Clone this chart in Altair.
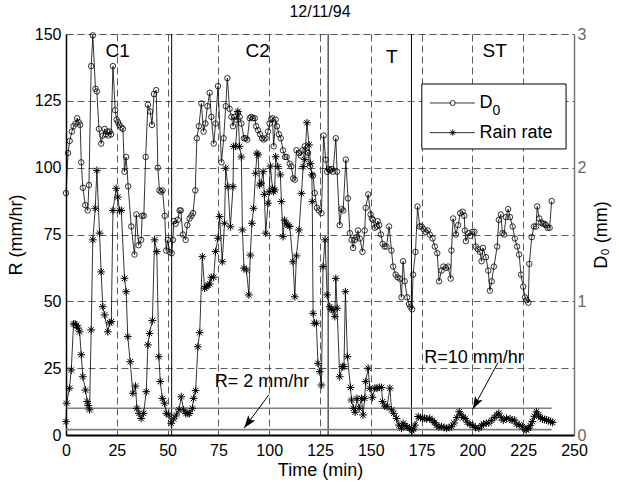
import altair as alt
import pandas as pd

FONT = "Liberation Sans"

# ---------------- data ----------------
# (time in min, D0 in mm)
d0_readings = [
    (0.0,1.81),(1.0,2.11),(1.8,2.20),(2.9,2.27),(3.7,2.31),(4.7,2.33),(5.5,2.37),(6.2,2.34),(7.0,2.32),(7.5,2.04),
    (8.3,1.85),(9.5,1.72),(10.7,1.68),(11.3,1.87),(12.4,2.76),(13.2,2.99),(14.5,2.59),(15.2,2.57),(16.2,2.29),(17.3,2.18),
    (18.1,2.24),(19.0,2.29),(19.6,2.25),(20.3,2.27),(20.9,2.24),(21.5,2.27),(22.2,2.25),(23.1,2.76),(24.2,2.43),(24.9,2.36),
    (25.6,2.34),(26.3,2.32),(27.2,2.30),(28.0,2.29),(28.8,1.97),(29.6,2.08),(30.6,1.86),(32.1,1.56),(33.7,1.35),(34.6,1.65),
    (35.7,1.42),(37.0,1.46),(37.5,1.64),(38.3,1.64),(39.2,2.08),(40.3,2.47),(41.5,2.42),(42.3,2.32),(43.3,2.55),(44.4,2.58),
    (45.2,2.00),(46.0,1.83),(46.8,1.82),(47.5,1.83),(48.6,1.64),(49.3,1.38),(50.1,1.46),(51.0,1.37),(52.0,1.36),(52.6,1.46),
    (53.1,1.60),(54.0,1.58),(55.0,1.61),(55.9,1.68),(56.5,1.68),(57.5,1.50),(58.9,1.46),(59.7,1.57),(60.8,1.62),(61.7,1.64),
    (62.5,1.66),(63.6,1.83),(64.4,2.22),(65.4,2.31),(66.6,2.48),(67.7,2.27),(68.6,2.33),(69.6,2.46),(70.7,2.56),(71.5,2.38),
    (72.7,2.18),(73.6,2.33),(74.8,2.61),(76.5,2.04),(77.6,2.22),(78.6,2.46),(79.4,2.67),(80.5,2.44),(81.4,2.38),(82.2,2.31),
    (83.0,2.38),(83.8,2.36),(84.6,2.41),(85.5,2.38),(86.3,2.33),(87.6,2.22),(88.4,2.22),(89.2,2.21),(90.4,2.37),(91.2,2.38),
    (92.0,2.37),(92.9,2.37),(93.6,2.31),(94.5,2.28),(95.5,2.25),(96.5,2.22),(97.3,2.21),(98.2,2.22),(99.4,2.27),(100.2,2.33),
    (101.0,2.36),(101.6,2.37),(102.2,2.16),(103.2,2.36),(103.8,2.31),(104.8,2.25),(105.7,2.22),(106.8,2.13),(107.8,2.08),(108.6,2.08),
    (110.1,2.03),(110.9,2.01),(111.8,1.92),(112.6,1.91),(113.4,2.13),(114.7,2.11),(115.6,2.09),(116.4,2.13),(117.5,2.16),(118.3,2.12),
    (119.1,2.11),(120.0,2.01),(121.6,1.94),(122.4,1.81),(123.5,1.70),(124.4,1.68),(125.7,1.66),(126.8,2.24),(127.8,2.06),(128.5,1.97),
    (129.3,1.99),(130.0,1.98),(130.8,1.99),(131.4,1.97),(132.8,2.22),(133.4,1.97),(134.7,1.57),(135.6,1.69),(136.4,1.68),(137.7,2.06),
    (138.8,1.77),(139.7,1.51),(140.5,1.46),(141.3,1.40),(142.2,1.46),(143.0,1.48),(143.7,1.53),(144.6,1.47),(145.9,1.37),(147.0,1.53),
    (147.5,1.70),(148.7,1.80),(149.9,1.65),(150.5,1.62),(151.1,1.61),(152.0,1.55),(152.8,1.56),(153.4,1.60),(154.1,1.57),(155.0,1.50),
    (155.8,1.43),(156.8,1.41),(157.7,1.41),(159.0,1.56),(160.2,1.38),(161.0,1.26),(162.2,1.20),(163.2,1.18),(164.3,1.17),(165.1,1.03),
    (165.9,1.30),(166.7,1.15),(167.9,1.03),(168.8,0.98),(169.5,0.96),(170.3,0.94),(170.8,1.20),(172.0,1.37),(173.0,1.71),(174.1,1.56),
    (175.0,1.56),(176.0,1.54),(177.0,1.52),(178.0,1.53),(179.0,1.50),(180.4,1.47),(181.5,1.41),(182.7,1.36),(183.6,1.15),(184.8,1.23),
    (185.7,1.26),(187.0,1.25),(188.0,1.26),(189.3,1.17),(189.7,1.38),(190.5,1.62),(191.9,1.50),(193.0,1.57),(194.0,1.66),(195.2,1.67),
    (196.0,1.64),(196.3,1.53),(196.8,1.45),(198.0,1.51),(199.0,1.49),(200.0,1.52),(201.0,1.52),(201.7,1.41),(202.7,1.39),(203.7,1.37),
    (204.5,1.30),(205.2,1.40),(206.7,1.33),(207.8,1.23),(208.6,1.08),(209.5,1.15),(210.6,1.26),(212.2,1.41),(213.0,1.61),(214.0,1.65),
    (214.8,1.51),(215.6,1.50),(216.5,1.63),(217.6,1.69),(218.5,1.63),(219.8,1.56),(220.9,1.47),(222.0,1.41),(223.0,1.35),(223.9,1.20),
    (225.0,1.11),(225.9,1.03),(226.7,1.01),(227.5,0.99),(228.0,1.28),(229.2,1.48),(230.3,1.56),(231.3,1.56),(231.9,1.71),(232.9,1.62),
    (233.8,1.59),(234.6,1.58),(235.4,1.58),(236.2,1.57),(237.0,1.55),(238.0,1.55),(239.0,1.75),
]

# (time in min, rain rate in mm/hr)
rain_readings = [
    (0.0,5.0),(0.3,11.9),(1.7,17.5),(2.6,24.3),(3.7,41.5),(4.5,41.5),(5.2,41.0),(6.0,40.0),(6.7,38.6),(7.5,30.0),
    (8.3,21.8),(9.6,16.8),(10.4,12.5),(10.9,11.0),(11.6,9.4),(12.4,39.3),(13.2,73.0),(14.4,84.8),(15.2,99.0),(16.5,75.5),
    (17.3,61.0),(18.1,48.0),(19.0,44.9),(20.6,38.6),(21.5,42.0),(22.3,42.4),(23.1,84.0),(24.7,92.3),(25.5,89.0),(26.3,84.0),
    (27.2,84.0),(28.8,58.6),(29.6,53.6),(30.4,36.8),(31.6,27.4),(32.9,15.6),(34.2,18.3),(34.9,10.0),(35.9,8.1),(37.0,6.2),
    (38.2,8.1),(39.5,16.2),(40.3,33.7),(41.1,38.0),(42.5,42.8),(43.6,73.0),(44.7,68.6),(45.7,29.3),(46.4,20.0),(47.4,13.7),
    (48.5,11.9),(49.4,8.1),(50.6,7.5),(51.8,4.4),(53.0,6.0),(54.3,7.5),(55.6,9.4),(56.7,14.3),(57.9,9.4),(59.0,8.0),
    (60.0,8.1),(60.8,8.1),(62.2,10.0),(62.8,13.7),(63.8,16.6),(64.9,33.0),(65.8,38.3),(67.1,66.7),(68.2,54.9),(69.0,55.5),
    (69.9,56.0),(70.7,56.5),(71.5,59.0),(72.7,59.0),(73.6,68.6),(74.8,73.6),(75.6,81.7),(76.9,64.8),(78.0,79.2),(78.6,99.8),
    (79.7,92.9),(80.9,77.9),(82.2,92.9),(82.5,107.9),(83.5,108.0),(84.6,121.0),(85.4,108.0),(86.3,104.0),(86.8,76.7),(87.6,62.4),
    (88.8,61.7),(90.0,52.4),(90.7,67.3),(91.5,79.2),(92.3,84.8),(93.3,97.9),(94.0,105.4),(94.5,104.8),(95.3,93.5),(96.0,94.2),
    (97.0,98.5),(97.6,90.0),(98.3,75.5),(99.4,86.7),(100.0,91.0),(100.6,100.6),(101.6,92.3),(102.2,91.0),(102.7,91.7),(103.2,104.1),
    (104.3,100.4),(105.5,97.3),(106.0,87.3),(106.8,74.2),(107.6,80.4),(108.4,79.0),(109.2,78.5),(110.1,78.0),(111.7,64.8),(112.6,51.7),
    (113.4,67.0),(114.7,76.7),(115.9,90.4),(116.7,100.4),(117.5,103.0),(118.6,116.8),(119.6,108.5),(120.3,101.6),(121.0,97.3),(121.2,87.3),
    (121.6,45.5),(122.2,41.8),(123.2,41.8),(124.0,26.8),(124.9,23.7),(125.7,18.7),(126.5,63.0),(127.5,73.0),(128.5,52.4),(129.8,48.0),
    (130.6,47.0),(131.4,46.8),(132.3,44.3),(132.8,58.6),(133.4,47.4),(134.7,21.8),(136.0,25.6),(136.8,25.6),(137.5,53.6),(138.5,29.3),
    (140.0,17.8),(140.5,13.1),(141.5,10.0),(142.3,8.5),(143.2,13.7),(144.3,10.0),(145.4,13.7),(146.2,7.5),(147.0,13.7),(147.5,20.0),
    (148.7,25.0),(149.5,17.5),(150.8,14.1),(152.0,17.5),(153.0,17.5),(154.2,17.8),(155.3,17.8),(155.8,12.5),(156.9,10.8),(158.0,10.6),
    (159.4,17.5),(160.2,9.4),(161.3,8.1),(162.7,6.2),(163.8,3.7),(165.1,2.5),(165.9,4.4),(166.8,3.5),(167.9,3.1),(169.0,2.5),
    (170.3,1.6),(171.0,2.2),(171.7,3.7),(173.3,6.9),(174.5,6.5),(175.5,6.2),(176.5,6.3),(177.5,6.0),(179.0,6.2),(180.2,5.5),
    (181.3,4.7),(182.4,3.7),(183.5,3.0),(184.8,3.2),(186.0,2.8),(187.3,2.5),(188.5,2.8),(189.7,3.1),(191.0,4.5),(192.3,6.5),
    (193.5,8.7),(194.5,7.5),(195.5,6.5),(196.5,6.2),(197.5,4.8),(198.8,4.0),(200.3,3.5),(201.5,2.8),(203.2,2.5),(204.5,3.5),
    (205.5,4.1),(206.8,4.4),(208.1,4.5),(209.5,5.5),(210.8,6.5),(212.0,7.5),(213.0,8.2),(214.2,6.5),(215.2,5.5),(216.8,6.2),
    (218.5,6.0),(219.5,5.5),(220.7,5.6),(221.8,4.1),(223.0,3.8),(224.6,3.1),(225.9,2.2),(226.5,1.9),(227.5,2.5),(228.5,3.5),
    (229.5,5.0),(230.5,7.0),(231.5,8.7),(232.5,7.5),(233.5,6.5),(234.5,6.0),(235.5,5.8),(236.5,5.6),(237.5,5.4),(238.5,5.0),
    (239.5,4.7),
]

x_ticks = [0, 25, 50, 75, 100, 125, 150, 175, 200, 225, 250]
r_ticks = [0, 25, 50, 75, 100, 125, 150]
d0_ticks = [0, 1, 2, 3]

regime_boundaries = [52, 129, 170]
regime_labels = ["C1", "C2", "T", "ST"]
regime_label_t = [25.4, 94.3, 160.3, 211.0]
regime_label_R = [143.5, 143.5, 141.4, 143.5]

threshold_R = [10, 2]
threshold_start = [0, 0]
threshold_end = [239, 239]

note_texts = ["R= 2 mm/hr", "R=10 mm/hr"]
note_t = [73.2, 176.3]
note_R = [19.8, 28.8]
arrow_from_t = [99.8, 212.5]
arrow_from_R = [15.0, 27.0]
arrow_to_t = [87.7, 200.2]
arrow_to_R = [2.6, 9.7]
arrow_angle = [216.6, 208.5]

legend_box_t = [175.1, 246.1]
legend_box_R = [107.0, 131.3]
legend_row_R = [124.2, 113.1]
legend_line_t = [179.1, 201.2]
legend_marker_t = 190.3
legend_text_t = 203.5

# ---------------- build ----------------
d0_df = pd.DataFrame(d0_readings, columns=["t", "D0"])
rain_df = pd.DataFrame(rain_readings, columns=["t", "R"])

STAR = "M0,-1V1M-1,0H1M-0.7,-0.7L0.7,0.7M-0.7,0.7L0.7,-0.7"
ARROW = "M0,0L0.55,1.6L0,1.25L-0.55,1.6Z"

axis_x = alt.Axis(values=x_ticks, grid=True, gridDash=[7, 4], gridColor="#333", gridWidth=0.8,
                  domainColor="black", domainWidth=2, ticks=False, tickSize=0,
                  labelFontSize=16, labelPadding=7, labelColor="black", labelFlush=False,
                  labelFont=FONT, title="Time (min)", titleFont=FONT, titleFontSize=18,
                  titleFontWeight="normal", titleColor="black", titlePadding=3)
axis_left = alt.Axis(values=r_ticks, grid=True, gridDash=[7, 4], gridColor="#333", gridWidth=0.8,
                     domainColor="black", domainWidth=1.5, ticks=False, tickSize=0,
                     labelFontSize=16, labelPadding=5, labelColor="black", labelFont=FONT,
                     title="R (mm/hr)", titleFont=FONT, titleFontSize=18, titleFontWeight="normal",
                     titleColor="black", titlePadding=9)
axis_right = alt.Axis(orient="right", values=d0_ticks, grid=False, domainColor="#777", domainWidth=1.5,
                      ticks=False, tickSize=0, labelFontSize=16, labelPadding=3, labelColor="#666",
                      labelFont=FONT, title="D₀ (mm)", titleFont=FONT, titleFontSize=18,
                      titleFontWeight="normal", titleColor="black", titlePadding=7,
                      titleAngle=270, titleBaseline="top")

X = alt.X("t:Q", scale=alt.Scale(domain=[0, 250], nice=False, zero=False), axis=axis_x)
Y = alt.Y("R:Q", scale=alt.Scale(domain=[0, 150], nice=False), axis=axis_left)

bound_df = pd.DataFrame({"t": regime_boundaries})
bounds = alt.Chart(bound_df).mark_rule(color="black", strokeWidth=1).encode(x=X)

thr_df = pd.DataFrame({"R": threshold_R, "t": threshold_start, "t2": threshold_end})
thresholds = alt.Chart(thr_df).mark_rule(color="#808080", strokeWidth=1.6).encode(
    x=X, x2="t2:Q", y=Y)

rain_line = alt.Chart(rain_df).mark_line(color="black", strokeWidth=0.8).encode(x=X, y=Y)
rain_pts = alt.Chart(rain_df).mark_point(shape=STAR, size=60, filled=False, color="black",
                                         strokeWidth=1.0, opacity=1).encode(x=X, y=Y)

lab_df = pd.DataFrame({"t": regime_label_t, "R": regime_label_R, "label": regime_labels})
labels = alt.Chart(lab_df).mark_text(font=FONT, fontSize=19, color="black", align="center",
                                     baseline="middle").encode(x=X, y=Y, text="label:N")

note_df = pd.DataFrame({"t": note_t, "R": note_R, "label": note_texts})
notes = alt.Chart(note_df).mark_text(font=FONT, fontSize=18, color="black", align="left",
                                     baseline="middle").encode(x=X, y=Y, text="label:N")

arr_df = pd.DataFrame({"t": arrow_from_t, "R": arrow_from_R, "t2": arrow_to_t, "R2": arrow_to_R,
                       "angle": arrow_angle, "te": arrow_to_t, "Re": arrow_to_R})
arrow_lines = alt.Chart(arr_df).mark_rule(color="black", strokeWidth=1).encode(
    x=X, y=Y, x2="t2:Q", y2="R2:Q")
arrow_heads = alt.Chart(arr_df).mark_point(shape=ARROW, size=250, filled=True, color="black",
                                           opacity=1, strokeWidth=0).encode(
    x=alt.X("te:Q", scale=alt.Scale(domain=[0, 250], nice=False, zero=False), axis=axis_x),
    y=alt.Y("Re:Q", scale=alt.Scale(domain=[0, 150], nice=False), axis=axis_left),
    angle=alt.Angle("angle:Q", scale=None))

box_df = pd.DataFrame({"t": [legend_box_t[0]], "t2": [legend_box_t[1]],
                       "R": [legend_box_R[0]], "R2": [legend_box_R[1]]})
legend_box = alt.Chart(box_df).mark_rect(fill="white", stroke="black", strokeWidth=1).encode(
    x=X, x2="t2:Q", y=Y, y2="R2:Q")
leg_line_df = pd.DataFrame({"t": [legend_line_t[0]] * 2, "t2": [legend_line_t[1]] * 2,
                            "R": legend_row_R})
legend_lines = alt.Chart(leg_line_df).mark_rule(color="black", strokeWidth=0.8).encode(
    x=X, x2="t2:Q", y=Y)
leg_circ = alt.Chart(pd.DataFrame({"t": [legend_marker_t], "R": [legend_row_R[0]]})).mark_point(
    shape="circle", size=25, filled=True, fill="white", stroke="black", strokeWidth=0.8,
    opacity=1).encode(x=X, y=Y)
leg_star = alt.Chart(pd.DataFrame({"t": [legend_marker_t], "R": [legend_row_R[1]]})).mark_point(
    shape=STAR, size=40, filled=False, color="black", strokeWidth=0.9, opacity=1).encode(x=X, y=Y)
leg_text_df = pd.DataFrame({"t": [legend_text_t] * 2, "R": legend_row_R, "label": ["D", "Rain rate"]})
leg_text = alt.Chart(leg_text_df).mark_text(font=FONT, fontSize=18, align="left",
                                            baseline="middle", color="black").encode(
    x=X, y=Y, text="label:N")
leg_sub = alt.Chart(pd.DataFrame({"t": [legend_text_t], "R": [legend_row_R[0]], "label": ["0"]})).mark_text(
    font=FONT, fontSize=14, align="left", baseline="middle", dx=13, dy=8, color="black").encode(
    x=X, y=Y, text="label:N")

r_layer = alt.layer(bounds, thresholds, rain_line, rain_pts, labels, notes, arrow_lines,
                    arrow_heads, legend_box, legend_lines, leg_circ, leg_star, leg_text, leg_sub)

YD = alt.Y("D0:Q", scale=alt.Scale(domain=[0, 3], nice=False), axis=axis_right)
d0_line = alt.Chart(d0_df).mark_line(color="black", strokeWidth=0.8).encode(x=X, y=YD)
d0_pts = alt.Chart(d0_df).mark_point(shape="circle", size=30, filled=False, color="black",
                                     strokeWidth=0.8, opacity=1).encode(x=X, y=YD)
d_layer = alt.layer(d0_line, d0_pts)

chart = alt.layer(r_layer, d_layer).resolve_scale(y="independent").properties(
    width=508, height=401,
    autosize=alt.AutoSizeParams(type="none"),
    padding={"left": 66, "top": 34, "right": 45, "bottom": 49},
    title=alt.TitleParams("12/11/94", font=FONT, fontSize=16, fontWeight="normal", color="black",
                          anchor="middle", frame="group", offset=-7, baseline="alphabetic"),
).configure_view(stroke="black", strokeWidth=1.5).configure(background="white")

chart.save("out.html", embed_options={"renderer": "svg", "actions": False})
